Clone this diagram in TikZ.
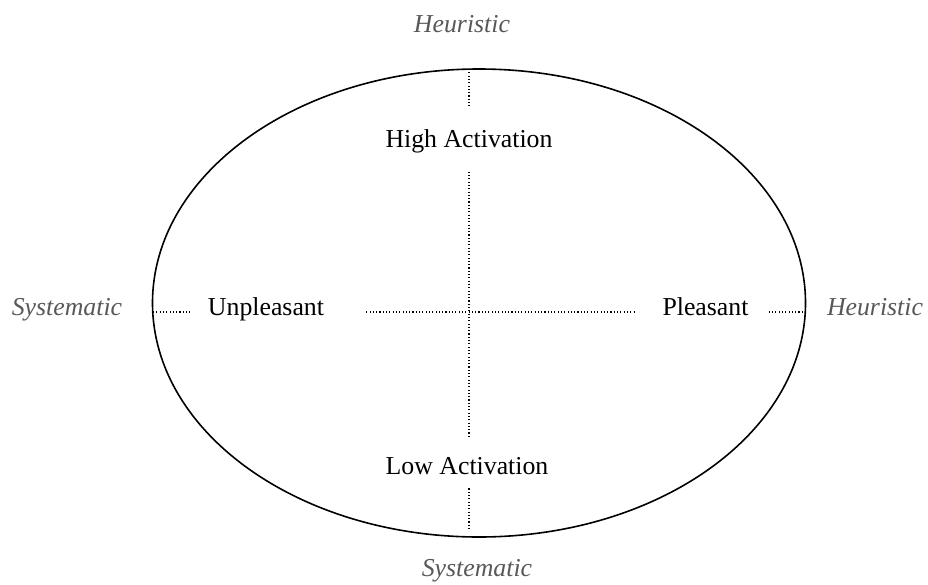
\documentclass[tikz,border=0pt]{standalone}
\usepackage{fontspec}
\setmainfont{Liberation Serif}
\usetikzlibrary{positioning}
\definecolor{ModeGray}{RGB}{88,88,88}

\begin{document}
\begin{tikzpicture}[x=1pt,y=-1pt,
  every node/.style={inner sep=0pt,font=\fontsize{25.8}{30}\selectfont},
  pole/.style={anchor=base},
  mode/.style={anchor=base,text=ModeGray,font=\fontsize{25.8}{30}\selectfont\itshape},
  axis/.style={line width=1.1pt,dash pattern=on 1.1pt off 2.2pt}]
  \useasboundingbox (0,0) rectangle (928,584);
  \draw[line width=1.6pt] (479,303) ellipse [x radius=326.5pt,y radius=234pt];
  \coordinate (N) at (469,69);
  \coordinate (S) at (469,537);
  \coordinate (W) at (153,312);
  \coordinate (E) at (805.5,312);
  \node[pole] (high) at (469,147) {High Activation};
  \node[pole] (low) at (467,474) {Low Activation};
  \node[pole] (unpl) at (266,315) {Unpleasant};
  \node[pole] (pleas) at (705.5,315) {Pleasant};
  \node[mode] (heurN) at (462,32) {Heuristic};
  \node[mode] (sysS) at (477,576) {Systematic};
  \node[mode] (sysW) at (67,315) {Systematic};
  \node[mode] (heurE) at (875,315) {Heuristic};
  \draw[axis,shorten >=21pt] (N) -- (high.north -| N);
  \draw[axis,shorten <=19pt,shorten >=19pt] (high.south -| N) -- (low.north -| N);
  \draw[axis,shorten <=14pt,shorten >=7pt] (low.south -| N) -- (S);
  \draw[axis,shorten >=18pt] (W) -- ([yshift=3pt]unpl.base west);
  \draw[axis,shorten <=42pt,shorten >=27pt] ([yshift=3pt]unpl.base east) -- ([yshift=3pt]pleas.base west);
  \draw[axis,shorten <=20pt] ([yshift=3pt]pleas.base east) -- (E);
\end{tikzpicture}
\end{document}
